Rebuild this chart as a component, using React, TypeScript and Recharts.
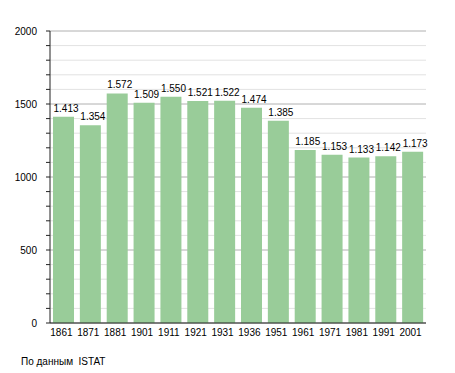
import React from 'react';
import { BarChart, Bar, XAxis, YAxis, CartesianGrid, LabelList } from 'recharts';

const years = ['1861', '1871', '1881', '1901', '1911', '1921', '1931', '1936', '1951', '1961', '1971', '1981', '1991', '2001'];
const population = [1413, 1354, 1572, 1509, 1550, 1521, 1522, 1474, 1385, 1185, 1153, 1133, 1142, 1173];
const valueLabels = ['1.413', '1.354', '1.572', '1.509', '1.550', '1.521', '1.522', '1.474', '1.385', '1.185', '1.153', '1.133', '1.142', '1.173'];
const majorTicks = [0, 500, 1000, 1500, 2000];
const minorTicks = [100, 200, 300, 400, 600, 700, 800, 900, 1100, 1200, 1300, 1400, 1600, 1700, 1800, 1900];
const allTicks = [0, 100, 200, 300, 400, 500, 600, 700, 800, 900, 1000, 1100, 1200, 1300, 1400, 1500, 1600, 1700, 1800, 1900, 2000];
const source = 'По данным  ISTAT';

const data = years.map((y, i) => ({ year: y, value: population[i], label: valueLabels[i] }));

const FONT = '"Liberation Sans", Arial, sans-serif';

const YTick = (props: any) => {
  const { x, y, payload } = props;
  if (!majorTicks.includes(payload.value)) return <g />;
  return (
    <text x={x} y={y} dy="0.355em" textAnchor="end" fontSize={10} fontFamily={FONT} fill="#000">
      {payload.value}
    </text>
  );
};

const XTick = (props: any) => {
  const { x, y, payload } = props;
  return (
    <text x={x - 2} y={y} dy="0.71em" textAnchor="middle" fontSize={10} fontFamily={FONT} fill="#000">
      {payload.value}
    </text>
  );
};

const ValueLabel = (props: any) => {
  const { x, y, value } = props;
  return (
    <text x={x + 0.5} y={y - 5} textAnchor="start" fontSize={10} fontFamily={FONT} fill="#000">
      {value}
    </text>
  );
};

export default function App() {
  return (
    <div style={{ position: 'absolute', left: 0, top: 0, width: 455, height: 373, background: '#fff' }}>
      <BarChart width={455} height={373} data={data} margin={{ top: 31, right: 29, left: 0, bottom: 0 }} barSize={21}>
        <CartesianGrid vertical={false} horizontalValues={minorTicks} stroke="#e2e2e2" strokeWidth={1} />
        <CartesianGrid vertical={false} horizontalValues={majorTicks} stroke="#b0b0b0" strokeWidth={1} />
        <XAxis
          dataKey="year"
          height={50}
          tickLine={false}
          tickSize={0}
          tickMargin={6}
          axisLine={{ stroke: '#222' }}
          tick={<XTick />}
          interval={0}
        />
        <YAxis
          width={50}
          domain={[0, 2000]}
          ticks={allTicks}
          interval={0}
          tickSize={4}
          tickMargin={9}
          tickLine={{ stroke: '#222' }}
          axisLine={{ stroke: '#222' }}
          tick={<YTick />}
        />
        <Bar dataKey="value" fill="#99cc99" isAnimationActive={false}>
          <LabelList dataKey="label" content={<ValueLabel />} />
        </Bar>
      </BarChart>
      <div style={{ position: 'absolute', left: 21, top: 356, fontSize: 10, fontFamily: FONT, color: '#000', whiteSpace: 'pre', lineHeight: '12px' }}>
        {source}
      </div>
    </div>
  );
}
